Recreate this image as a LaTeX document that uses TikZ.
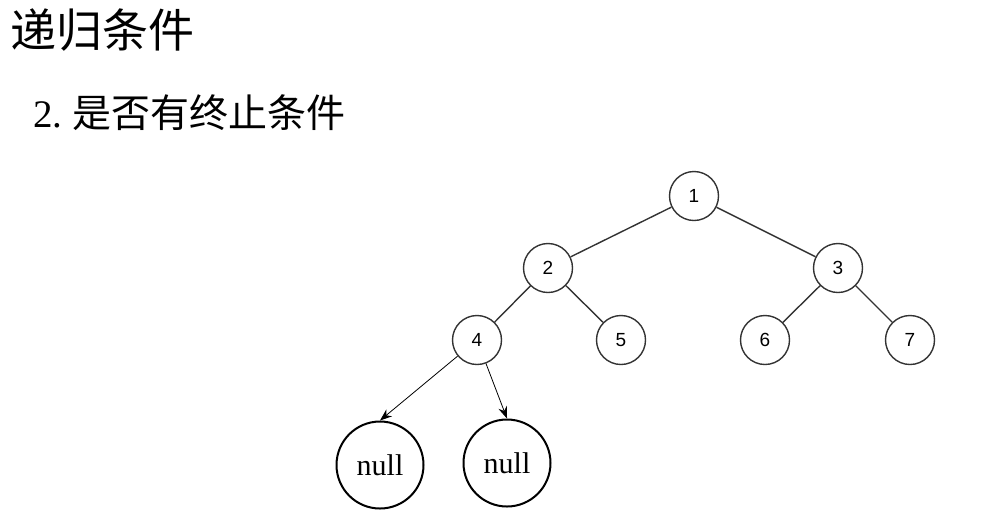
\documentclass[tikz,border=0pt]{standalone}
\usepackage{fontspec}
\setmainfont{Liberation Serif}
\setsansfont{Liberation Sans}
\newfontfamily\cjk{Noto Sans CJK SC}
\usetikzlibrary{arrows.meta,positioning}
\definecolor{edgegray}{HTML}{333333}

\begin{document}
\begin{tikzpicture}[
    x=0.5pt, y=-0.5pt,
    tnode/.style={circle, draw=edgegray, line width=0.7pt, minimum size=24.5pt,
                  inner sep=0pt, font=\sffamily\fontsize{9.5}{10}\selectfont},
    nullnode/.style={circle, draw=black, line width=1pt, minimum size=43.5pt,
                     inner sep=0pt, font=\fontsize{15}{16}\selectfont},
    tedge/.style={draw=edgegray, line width=0.7pt},
    arr/.style={-{Stealth[length=6pt,width=4.5pt]}, line width=0.4pt, black},
    title/.style={anchor=west, inner sep=0pt}
  ]
    \useasboundingbox (0,0) rectangle (1006,527);

    % --- heading ---
    \node[title, font=\cjk\fontsize{23}{24}\selectfont] (head) at (10,30) {递归条件};
    \node[title, font=\fontsize{19.5}{22}\selectfont] (sub) at (33,113)
      {2.\hspace{5pt}{\cjk 是否有终止条件}};

    % --- tree ---
    \node[tnode] (n1) at (694,196) {1};
    \node[tnode] (n2) at (548,268) {2};
    \node[tnode] (n3) at (838,268) {3};
    \node[tnode] (n4) at (477,340) {4};
    \node[tnode] (n5) at (621,340) {5};
    \node[tnode] (n6) at (765,340) {6};
    \node[tnode] (n7) at (910,340) {7};

    \draw[tedge] (n1) -- (n2);
    \draw[tedge] (n1) -- (n3);
    \draw[tedge] (n2) -- (n4);
    \draw[tedge] (n2) -- (n5);
    \draw[tedge] (n3) -- (n6);
    \draw[tedge] (n3) -- (n7);

    % --- null children ---
    \node[nullnode] (nullL) at (380,465) {null};
    \node[nullnode] (nullR) at (507,463) {null};

    \draw[arr] (n4) -- (nullL.north);
    \draw[arr] (n4) -- (nullR.north);
  \end{tikzpicture}
\end{document}
